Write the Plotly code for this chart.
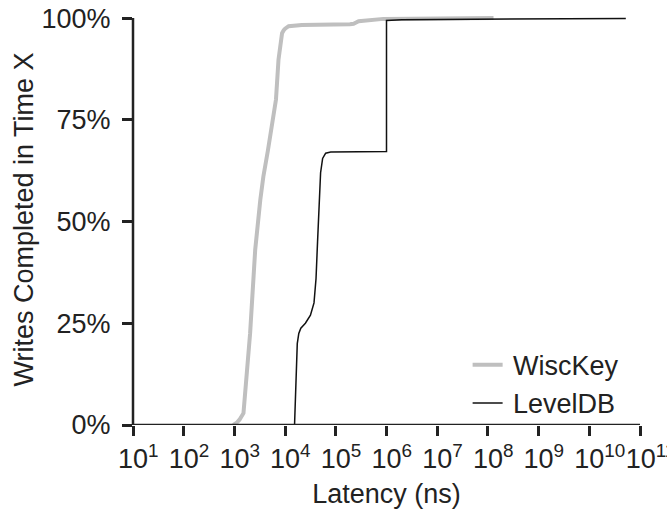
import plotly.graph_objects as go

# Latency (ns) and cumulative fraction of writes completed
wisckey_latency = [950, 1040, 1120, 1260, 1510, 2040, 2570, 3240, 3720, 4570, 6610, 7410, 8000, 8710,
                   9400, 10000, 11750, 21400, 190000, 224000, 282000, 603000, 871000, 1.29e8]
wisckey_frac = [0.0, 0.002, 0.006, 0.013, 0.029, 0.225, 0.43, 0.553, 0.61, 0.674, 0.80, 0.898, 0.94, 0.963,
                0.970, 0.974, 0.980, 0.983, 0.985, 0.986, 0.992, 0.996, 0.998, 1.0]

leveldb_latency = [15350, 15850, 16410, 17380, 18620, 20420, 25120, 31620, 37150, 40740,
                   43650, 46770, 50120, 54950, 63100, 79430, 1.0e6, 1.0e6, 2.0e6, 5.25e10]
leveldb_frac = [0.0, 0.06, 0.14, 0.20, 0.225, 0.238, 0.25, 0.27, 0.30, 0.36,
                0.45, 0.55, 0.62, 0.655, 0.668, 0.671, 0.672, 0.994, 0.996, 0.999]

x_tick_vals = [1e1, 1e2, 1e3, 1e4, 1e5, 1e6, 1e7, 1e8, 1e9, 1e10, 1e11]
x_tick_exps = ["1", "2", "3", "4", "5", "6", "7", "8", "9", "10", "11"]
y_tick_vals = [0, 0.25, 0.5, 0.75, 1.0]
y_tick_text = ["0%", "25%", "50%", "75%", "100%"]
series_names = ["WiscKey", "LevelDB"]

FONT = "Liberation Sans, Arial, Helvetica, sans-serif"
INK = "#222222"
FS = 27

x_tick_text = ["<sup>" + "\u2007" * len(e) + "</sup>10<sup>" + e + "</sup>" for e in x_tick_exps]

fig = go.Figure()
fig.add_trace(go.Scatter(x=wisckey_latency, y=wisckey_frac, mode="lines",
                         name="\u2009" + series_names[0],
                         line=dict(color="#bfbfbf", width=4)))
fig.add_trace(go.Scatter(x=leveldb_latency, y=leveldb_frac, mode="lines",
                         name="\u2009" + series_names[1],
                         line=dict(color="#111111", width=1.5)))

# axis lines drawn as shapes so the plot area can extend slightly above 100%
fig.add_shape(type="line", xref="paper", yref="y", x0=0, x1=0, y0=0, y1=1,
              line=dict(color=INK, width=2.5))
fig.add_shape(type="line", xref="paper", yref="y", x0=0, x1=1, y0=0, y1=0,
              line=dict(color=INK, width=2.5))

fig.update_layout(
    width=667, height=509,
    margin=dict(l=133, r=27, t=14, b=84),
    paper_bgcolor="white", plot_bgcolor="white",
    font=dict(family=FONT, size=FS, color=INK),
    showlegend=True,
    legend=dict(x=0.66, y=0.205, xanchor="left", yanchor="top",
                bgcolor="rgba(0,0,0,0)", font=dict(size=FS), tracegroupgap=0),
    xaxis=dict(type="log", range=[1, 11], tickvals=x_tick_vals, ticktext=x_tick_text,
               tickangle=0, automargin=False, ticklabeloverflow="allow",
               showgrid=False, zeroline=False, showline=False,
               ticks="outside", ticklen=10, tickwidth=2.5, tickcolor=INK,
               tickfont=dict(size=FS),
               title=dict(text="Latency (ns)", font=dict(size=FS), standoff=12)),
    yaxis=dict(range=[0, 1.01], tickvals=y_tick_vals, ticktext=y_tick_text,
               automargin=False, ticklabelstandoff=6,
               showgrid=False, zeroline=False, showline=False,
               ticks="outside", ticklen=10, tickwidth=2.5, tickcolor=INK,
               tickfont=dict(size=FS),
               title=dict(text="Writes Completed in Time X", font=dict(size=FS), standoff=0)),
)

fig.write_html("out.html")
